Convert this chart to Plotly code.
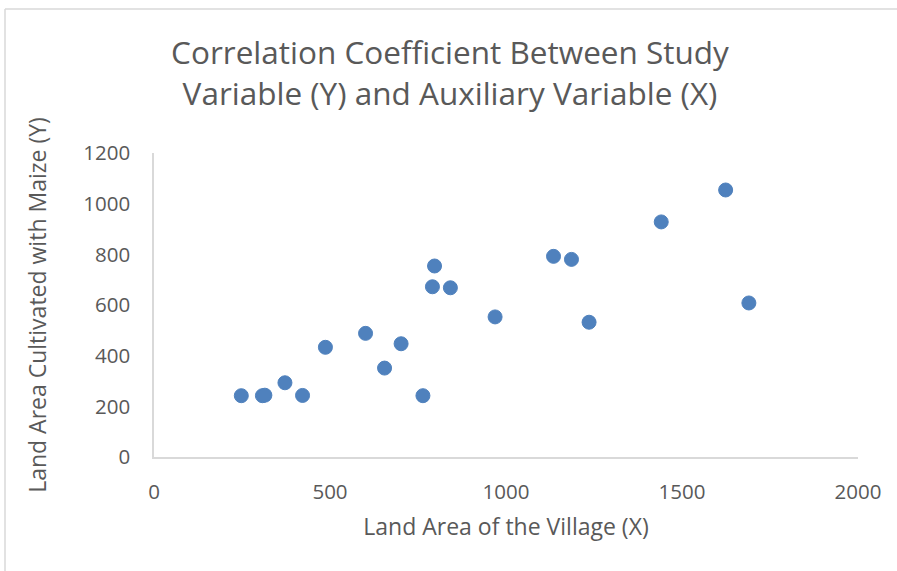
import plotly.graph_objects as go

# Data
land_area_village = [248, 308, 315, 372, 422, 487, 601, 655, 702, 764, 791, 797, 842, 969, 1135, 1186, 1236, 1441, 1624, 1690]
land_area_maize = [242, 242, 244, 293, 243, 433, 488, 351, 447, 242, 672, 754, 668, 553, 792, 780, 532, 928, 1054, 608]

x_ticks = [0, 500, 1000, 1500, 2000]
y_ticks = [0, 200, 400, 600, 800, 1000, 1200]

title_text = "Correlation Coefficient Between Study<br>Variable (Y) and Auxiliary Variable (X)"
x_title = "Land Area of the Village (X)"
y_title = "Land Area Cultivated with Maize (Y)"

FONT = "Open Sans, Noto Sans, DejaVu Sans, sans-serif"
GRAY = "#595959"
AXIS = "#d9d9d9"

fig = go.Figure()
fig.add_trace(go.Scatter(
    x=land_area_village, y=land_area_maize, mode="markers",
    marker=dict(size=14, color="#4f81bd", line=dict(width=1, color="#4f81bd")),
    showlegend=False,
))

fig.update_layout(
    width=897, height=571,
    margin=dict(l=154, r=39, t=153, b=114),
    paper_bgcolor="white", plot_bgcolor="white",
    font=dict(family=FONT, color=GRAY),
    title=dict(text=title_text, x=450/897, xanchor="center", xref="container",
               y=1 - 64/571, yanchor="middle", yref="container",
               font=dict(size=31.5, color=GRAY, family=FONT)),
    xaxis=dict(range=[0, 2000], tickvals=x_ticks, ticktext=[str(v) for v in x_ticks],
               showgrid=False, zeroline=False, showline=True, linecolor=AXIS, linewidth=1.5,
               ticks="outside", ticklen=16, tickcolor="rgba(0,0,0,0)",
               tickfont=dict(size=20.5, color=GRAY),
               title=dict(text=x_title, font=dict(size=23, color=GRAY), standoff=15)),
    yaxis=dict(range=[0, 1200], tickvals=y_ticks, ticktext=[str(v) for v in y_ticks],
               showgrid=False, zeroline=False, showline=True, linecolor=AXIS, linewidth=1.5,
               ticks="outside", ticklen=18, tickcolor="rgba(0,0,0,0)",
               tickfont=dict(size=20.5, color=GRAY),
               title=dict(text=y_title, font=dict(size=23, color=GRAY), standoff=30)),
)

# chart-area border (Excel style), top and left edges
fig.add_shape(type="line", xref="paper", yref="paper",
              x0=(5 - 154) / 704, x1=(897 - 154) / 704,
              y0=(457 - 9) / 304, y1=(457 - 9) / 304,
              line=dict(color=AXIS, width=1.5))
fig.add_shape(type="line", xref="paper", yref="paper",
              x0=(5 - 154) / 704, x1=(5 - 154) / 704,
              y0=(457 - 9) / 304, y1=(457 - 571) / 304,
              line=dict(color=AXIS, width=1.5))

fig.write_html("out.html",
               config={"displayModeBar": False},
               post_script="document.body.style.margin='0';document.body.style.overflow='hidden';")
